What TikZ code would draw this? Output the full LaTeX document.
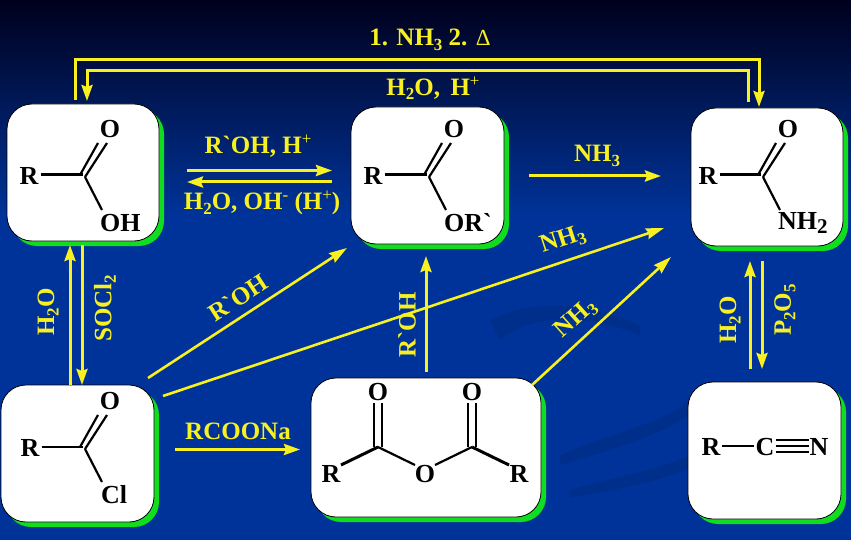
\documentclass[tikz,border=0pt]{standalone}
\usepackage{fontspec}
\setmainfont{Liberation Serif}
\newfontfamily\lab[Ligatures=ResetAll,BoldFont={Liberation Serif Bold}]{Liberation Serif}
\usetikzlibrary{arrows.meta,shadows,calc}
\definecolor{bgblue}{HTML}{003399}
\definecolor{bgtop}{HTML}{00001C}
\definecolor{ylw}{HTML}{F8F020}
\definecolor{grn}{HTML}{10DD20}
\newcommand{\sbs}[1]{\raisebox{-4.5pt}{\fontsize{17}{17}\selectfont #1}}
\newcommand{\sps}[1]{\raisebox{9pt}{\fontsize{17}{17}\selectfont\mdseries #1}}
\tikzset{
  x=1pt,y=-1pt,
  box/.style={draw=black,line width=0.8pt,fill=white,rounded corners=25pt,inner sep=0pt,
    general shadow={fill=grn,shadow xshift=5pt,shadow yshift=-5pt}},
  atom/.style={inner sep=0pt,text=black,font=\lab\bfseries\fontsize{26}{26}\selectfont},
  bond/.style={draw=black,line width=2.2pt},
  rbond/.style={draw=black,line width=3pt},
  lab/.style={inner sep=0pt,text=ylw,font=\lab\bfseries\fontsize{25}{25}\selectfont},
  arr/.style={draw=ylw,line width=3pt,-{Stealth[length=16pt,width=11pt,inset=2pt]}},
  plain/.style={draw=ylw,line width=3pt},
  diag/.style={draw=ylw,line width=2.6pt,-{Stealth[length=18pt,width=11pt,inset=2pt]}}
}
\begin{document}
\begin{tikzpicture}
\useasboundingbox (0,0) rectangle (851,540);
% background
\shade[top color=bgtop,bottom color=bgblue] (0,0) rectangle (851,215);
\fill[bgblue] (0,215) rectangle (851,540);
\fill[black!20!bgblue,opacity=.45] (560,455) .. controls (620,430) and (670,420) .. (690,400) -- (690,415) .. controls (650,440) and (610,450) .. (560,465) -- cycle;
\fill[black!20!bgblue,opacity=.45] (570,490) .. controls (620,475) and (660,470) .. (690,455) -- (690,468) .. controls (650,485) and (610,490) .. (570,498) -- cycle;
\fill[black!20!bgblue,opacity=.45] (490,320) .. controls (530,300) and (580,300) .. (640,325) -- (640,335) .. controls (580,312) and (530,315) .. (500,340) -- cycle;

% boxes
\node[box,minimum width=152pt,minimum height=137pt] (b1) at (83,172.5) {};
\node[box,minimum width=153pt,minimum height=137pt] (b2) at (427.5,175.5) {};
\node[box,minimum width=152pt,minimum height=138pt] (b3) at (767,177) {};
\node[box,minimum width=153pt,minimum height=137pt] (b4) at (77.5,453.5) {};
\node[box,minimum width=230pt,minimum height=139pt] (b5) at (426,447.5) {};
\node[box,minimum width=153pt,minimum height=137pt] (b6) at (764.5,450.5) {};

% acid
\node[atom] (r1) at (29,176) {R};
\node[atom] (o1) at (110,129) {O};
\node[atom,anchor=west] (x1) at (100,223) {OH};
\coordinate (c1) at (83,175);
\draw[rbond] (r1.east) ++(2,-1) -- (c1);
\draw[bond] ($(c1)+(-3,0)$) -- ($(c1)+(15,-32)$);
\draw[bond] ($(c1)+(2,2)$) -- ($(c1)+(24,-32)$);
\draw[bond] ($(c1)+(2,2)$) -- ($(c1)+(19,35)$);
% ester
\node[atom] (r2) at (373,176) {R};
\node[atom] (o2) at (454,129) {O};
\node[atom,anchor=west] (x2) at (444,223) {OR\symbol{96}};
\coordinate (c2) at (427,175);
\draw[rbond] (r2.east) ++(2,-1) -- (c2);
\draw[bond] ($(c2)+(-3,0)$) -- ($(c2)+(15,-32)$);
\draw[bond] ($(c2)+(2,2)$) -- ($(c2)+(24,-32)$);
\draw[bond] ($(c2)+(2,2)$) -- ($(c2)+(19,35)$);
% amide
\node[atom] (r3) at (708,176) {R};
\node[atom] (o3) at (788,129) {O};
\node[atom,anchor=west] (x3) at (778,223) {NH\sbs{\fontsize{21}{21}\selectfont 2}};
\coordinate (c3) at (761,175);
\draw[rbond] (r3.east) ++(2,-1) -- (c3);
\draw[bond] ($(c3)+(-3,0)$) -- ($(c3)+(15,-32)$);
\draw[bond] ($(c3)+(2,2)$) -- ($(c3)+(24,-32)$);
\draw[bond] ($(c3)+(2,2)$) -- ($(c3)+(19,35)$);
% acid chloride
\node[atom] (r4) at (30,448) {R};
\node[atom] (o4) at (110,401) {O};
\node[atom,anchor=west] (x4) at (101,495) {Cl};
\coordinate (c4) at (83,447);
\draw[bond] (r4.east) ++(2,-1) -- (c4);
\draw[bond] ($(c4)+(-3,0)$) -- ($(c4)+(15,-32)$);
\draw[bond] ($(c4)+(2,2)$) -- ($(c4)+(24,-32)$);
\draw[bond] ($(c4)+(2,2)$) -- ($(c4)+(19,35)$);
% anhydride
\node[atom] (o5a) at (378,392) {O};
\node[atom] (o5b) at (472,392) {O};
\node[atom] (r5a) at (331,474) {R};
\node[atom] (r5b) at (519,474) {R};
\node[atom] (o5c) at (425,474) {O};
\coordinate (c5a) at (378,447);
\coordinate (c5b) at (472,447);
\draw[bond] ($(c5a)+(-4,0)$) -- ($(o5a.south)+(-4,2)$);
\draw[bond] ($(c5a)+(4,0)$) -- ($(o5a.south)+(4,2)$);
\draw[bond] ($(c5b)+(-4,0)$) -- ($(o5b.south)+(-4,2)$);
\draw[bond] ($(c5b)+(4,0)$) -- ($(o5b.south)+(4,2)$);
\draw[bond,line width=3pt] ($(r5a)+(10,-9)$) -- (c5a);
\draw[bond] (c5a) -- ($(o5c)+(-10,-9)$);
\draw[bond] ($(o5c)+(10,-9)$) -- (c5b);
\draw[bond,line width=3pt] (c5b) -- ($(r5b)+(-10,-9)$);
% nitrile
\node[atom] (r6) at (711,447) {R};
\node[atom] (c6) at (765,447) {C};
\node[atom] (n6) at (819,447) {N};
\draw[bond] (r6.east) ++(1,-1) -- ($(c6.west)+(-1,-1)$);
\foreach \d in {-7,-1,5}{
  \draw[bond] ($(c6.east)+(1,\d)$) -- ($(n6.west)+(0,\d)$);
}

% connectors
\coordinate (t1) at (75,100); \coordinate (t2) at (75,60); \coordinate (t3) at (759,60); \coordinate (t4) at (759,107);
\draw[arr] (t1) -- (t2) -- (t3) -- (t4);
\coordinate (u1) at (748,102); \coordinate (u2) at (748,71); \coordinate (u3) at (87,71); \coordinate (u4) at (87,101);
\draw[arr] (u1) -- (u2) -- (u3) -- (u4);
\coordinate (e1) at (187,170.5); \coordinate (e2) at (332,170.5);
\draw[arr] (e1) -- (e2);
\coordinate (e3) at (332,182); \coordinate (e4) at (187,182);
\draw[arr] (e3) -- (e4);
\coordinate (a1) at (529,176); \coordinate (a2) at (661,176);
\draw[arr] (a1) -- (a2);
\coordinate (d1) at (70,385); \coordinate (d2) at (70,245);
\draw[arr] (d1) -- (d2);
\coordinate (d3) at (82,245); \coordinate (d4) at (82,385);
\draw[arr] (d3) -- (d4);
\coordinate (g1) at (148,378); \coordinate (g2) at (347,248);
\draw[diag] (g1) -- (g2);
\coordinate (g3) at (163,396); \coordinate (g4) at (664,228);
\draw[diag] (g3) -- (g4);
\coordinate (g5) at (532,385); \coordinate (g6) at (671,257);
\draw[diag] (g5) -- (g6);
\coordinate (v1) at (426,372); \coordinate (v2) at (426,256);
\draw[arr] (v1) -- (v2);
\coordinate (h1) at (175,449.5); \coordinate (h2) at (300,449.5);
\draw[arr] (h1) -- (h2);
\coordinate (n1) at (750,369); \coordinate (n2) at (750,261);
\draw[arr] (n1) -- (n2);
\coordinate (n3) at (762,261); \coordinate (n4) at (762,369);
\draw[arr] (n3) -- (n4);

% labels
\node[lab] (l1) at (430,40) {1. NH\sbs{3} 2. {\mdseries\fontsize{23}{23}\selectfont Δ}};
\node[lab] (l2) at (433,88) {H\sbs{2}O,\, H\sps{+}};
\node[lab] (l3) at (258,146) {R\symbol{96}OH, H\sps{+}};
\node[lab] (l4) at (262,203) {H\sbs{2}O, OH\sps{-} (H\sps{+})};
\node[lab] (l5) at (597,156) {NH\sbs{3}};
\node[lab,rotate=18] (l6) at (563,240) {NH\sbs{3}};
\node[lab,rotate=33] (l7) at (238,298) {R\symbol{96}OH};
\node[lab,rotate=90] (l8) at (48,312) {H\sbs{2}O};
\node[lab,rotate=90] (l9) at (105,308) {SOCl\sbs{2}};
\node[lab,rotate=90] (l10) at (407,325) {R\symbol{96}OH};
\node[lab,rotate=42] (l11) at (576,319) {NH\sbs{3}};
\node[lab] (l12) at (238,431) {RCOONa};
\node[lab,rotate=90] (l13) at (730,320) {H\sbs{2}O};
\node[lab,rotate=90] (l14) at (785,310) {P\sbs{2}O\sbs{5}};
\end{tikzpicture}
\end{document}
